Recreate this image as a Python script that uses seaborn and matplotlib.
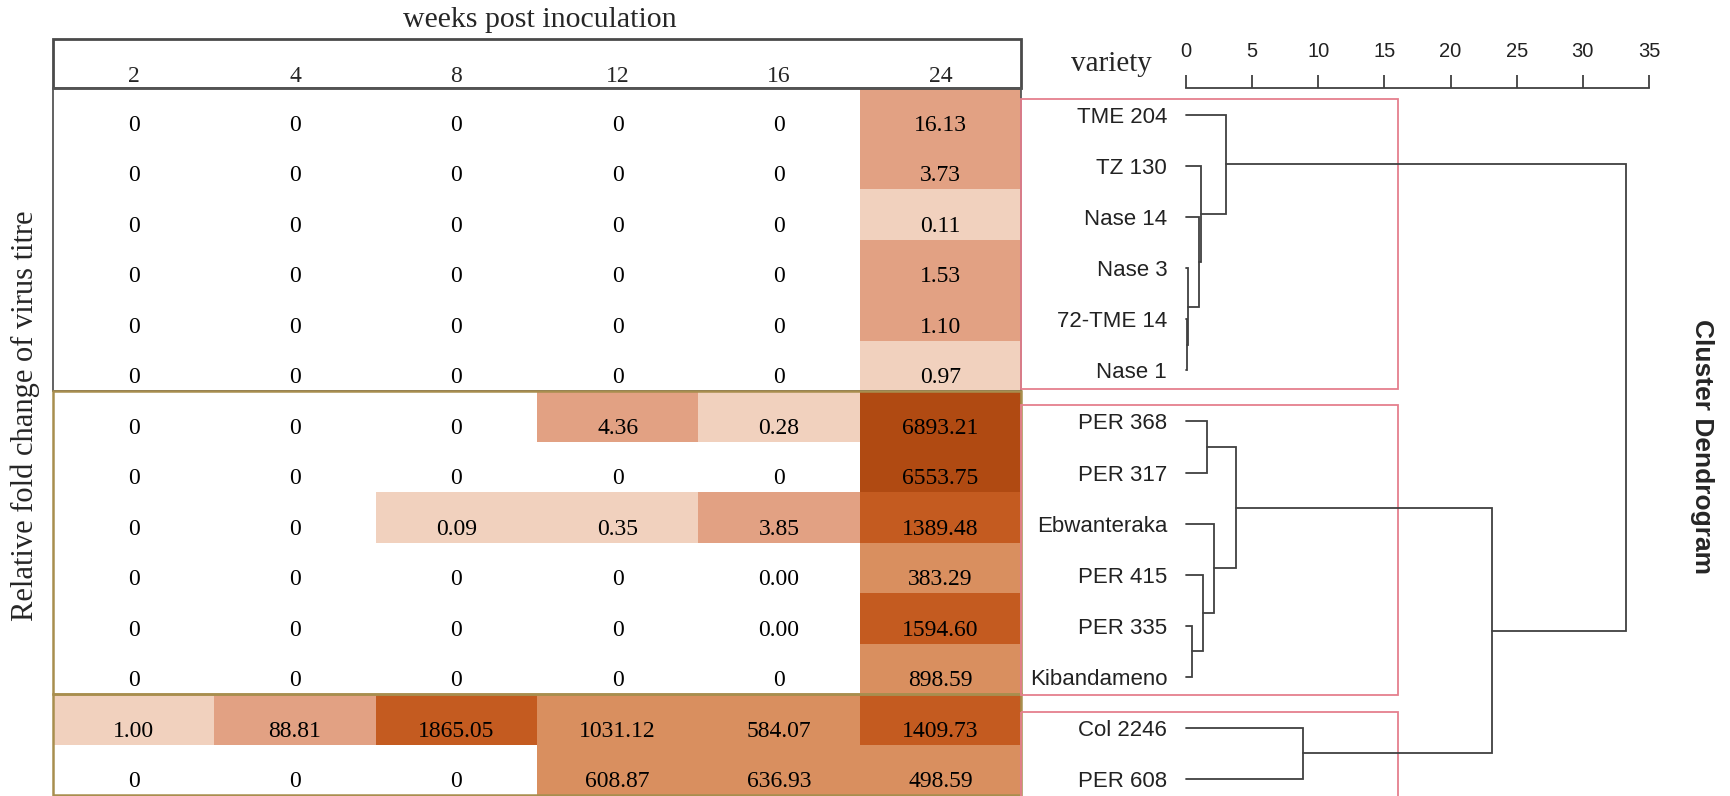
import numpy as np
import pandas as pd
import matplotlib
matplotlib.use("Agg")
import matplotlib.pyplot as plt
from matplotlib.colors import ListedColormap
from matplotlib.patches import Rectangle
import seaborn as sns

# ---------------- data ----------------
varieties = ["TME 204", "TZ 130", "Nase 14", "Nase 3", "72-TME 14", "Nase 1",
             "PER 368", "PER 317", "Ebwanteraka", "PER 415", "PER 335", "Kibandameno",
             "Col 2246", "PER 608"]
weeks = ["2", "4", "8", "12", "16", "24"]

wk2 = ["0", "0", "0", "0", "0", "0", "0", "0", "0", "0", "0", "0", "1.00", "0"]
wk4 = ["0", "0", "0", "0", "0", "0", "0", "0", "0", "0", "0", "0", "88.81", "0"]
wk8 = ["0", "0", "0", "0", "0", "0", "0", "0", "0.09", "0", "0", "0", "1865.05", "0"]
wk12 = ["0", "0", "0", "0", "0", "0", "4.36", "0", "0.35", "0", "0", "0", "1031.12", "608.87"]
wk16 = ["0", "0", "0", "0", "0", "0", "0.28", "0", "3.85", "0.00", "0.00", "0", "584.07", "636.93"]
wk24 = ["16.13", "3.73", "0.11", "1.53", "1.10", "0.97", "6893.21", "6553.75", "1389.48",
        "383.29", "1594.60", "898.59", "1409.73", "498.59"]

# colour classes: 0 | (0,1] | (1,100] | (100,1200] | (1200,5000] | >5000
class_edges = [0, 1.0, 100, 1200, 5000]
cell_colors = ["#FFFFFF", "#F1D1BE", "#E2A183", "#D98F5F", "#C45B20", "#B04A12"]

group_sizes = [6, 6, 2]

# dendrogram merges (rescaled distance)
link_a = ["Nase 1", "Nase 3", "Nase 14", "TZ 130", "TME 204",
          "PER 335", "PER 415", "Ebwanteraka", "PER 368", "m8",
          "Col 2246", "m9", "m4"]
link_b = ["72-TME 14", "m0", "m1", "m2", "m3",
          "Kibandameno", "m5", "m6", "PER 317", "m7",
          "PER 608", "m10", "m11"]
link_h = [0.05, 0.15, 1.0, 1.15, 3.0,
          0.48, 1.27, 2.13, 1.61, 3.77,
          8.82, 23.1, 33.25]
dist_ticks = [0, 5, 10, 15, 20, 25, 30, 35]
box_reach = 16.0

# ---------------- style ----------------
sns.set_style("white")
SERIF = ["Liberation Serif", "DejaVu Serif"]
SANS = ["Liberation Sans", "DejaVu Sans"]
plt.rcParams["font.family"] = SANS

W, H = 1730, 796
fig = plt.figure(figsize=(W / 100, H / 100), dpi=100)

# ---------------- heatmap table ----------------
table = pd.DataFrame({w: c for w, c in zip(weeks, [wk2, wk4, wk8, wk12, wk16, wk24])},
                     index=varieties)
values = table.astype(float)
levels = pd.DataFrame(np.digitize(values.values, class_edges, right=True),
                      index=varieties, columns=weeks)

ax_h = fig.add_axes([53 / W, 1 - 795 / H, 968 / W, 707 / H])
sns.heatmap(levels, cmap=ListedColormap(cell_colors), vmin=-0.5, vmax=len(cell_colors) - 0.5,
            cbar=False, ax=ax_h, xticklabels=weeks, yticklabels=False, linewidths=0)

for i, var in enumerate(varieties):
    for j, w in enumerate(weeks):
        ax_h.text(j + 0.5, i + 0.74, table.loc[var, w], ha="center", va="center",
                  fontsize=17, family=SERIF, color="black")

ax_h.xaxis.tick_top()
ax_h.tick_params(axis="x", length=0, pad=1, labelsize=17)
for t in ax_h.get_xticklabels():
    t.set_family(SERIF)
ax_h.set_xlabel("")
ax_h.set_ylabel("")
for s in ax_h.spines.values():
    s.set_visible(False)

n_cols = len(weeks)
header_h = (88 - 38.6) / 50.5
ax_h.add_patch(Rectangle((0, -header_h), n_cols, header_h, fill=False,
                         edgecolor="#4a4a4a", lw=2.0, clip_on=False, zorder=5))
start = 0
for gi, g in enumerate(group_sizes):
    col = "#555555" if gi == 0 else "#A88E4E"
    ax_h.add_patch(Rectangle((0, start), n_cols, g, fill=False, edgecolor=col,
                             lw=1.3 if gi == 0 else 1.8, clip_on=False, zorder=5 + gi))
    start += g

fig.text(540 / W, 1 - 20 / H, "weeks post inoculation", ha="center", va="center",
         fontsize=21.5, family=SERIF)
fig.text(25 / W, 1 - 416 / H, "Relative fold change of virus titre", ha="center",
         va="center", rotation=90, fontsize=22, family=SERIF)

# ---------------- dendrogram ----------------
px_per_unit = (1649 - 1186) / 35
leaf_px = (779 - 115) / (len(varieties) - 1)
ax_d = fig.add_axes([1186 / W, 0, (W - 1186) / W, (H - 88) / H])
ax_d.set_xlim(0, (W - 1186) / px_per_unit)
ax_d.set_ylim(len(varieties) - 1 + (H - 779) / leaf_px, -(115 - 88) / leaf_px)

line_col = "#404040"
pos = {name: (0.0, float(i)) for i, name in enumerate(varieties)}
for k, (a, b, h) in enumerate(zip(link_a, link_b, link_h)):
    xa, ya = pos[a]
    xb, yb = pos[b]
    ax_d.plot([xa, h, h, xb], [ya, ya, yb, yb], color=line_col, lw=1.3,
              solid_joinstyle="miter", clip_on=False)
    pos[f"m{k}"] = (h, (ya + yb) / 2)

ax_d.set_yticks(range(len(varieties)))
ax_d.set_yticklabels(varieties)
ax_d.tick_params(axis="y", length=0, pad=13.5, labelsize=16, labelcolor="#222222")
ax_d.xaxis.tick_top()
ax_d.set_xticks(dist_ticks)
ax_d.tick_params(axis="x", direction="out", length=9.5, width=1.3, color=line_col,
                 pad=10, labelsize=14.5, labelcolor="#222222")
for side in ["left", "right", "bottom"]:
    ax_d.spines[side].set_visible(False)
ax_d.spines["top"].set_bounds(0, 35)
ax_d.spines["top"].set_color(line_col)
ax_d.spines["top"].set_linewidth(1.3)

box_left = -(1186 - 1021) / px_per_unit
start = 0
for g in group_sizes:
    y0 = start - 0.32
    y1 = start + g - 1 + 0.36
    ax_d.add_patch(Rectangle((box_left, y0), box_reach - box_left, y1 - y0, fill=False,
                             edgecolor="#E57F8D", lw=1.3, clip_on=False, zorder=0))
    start += g

fig.text(1152 / W, 1 - 64 / H, "variety", ha="right", va="center", fontsize=21,
         family=SERIF)
fig.text(1702 / W, 1 - 446 / H, "Cluster Dendrogram", ha="center", va="center",
         rotation=270, fontsize=19, fontweight="bold", family=SANS)

fig.savefig("out.png", dpi=100)
